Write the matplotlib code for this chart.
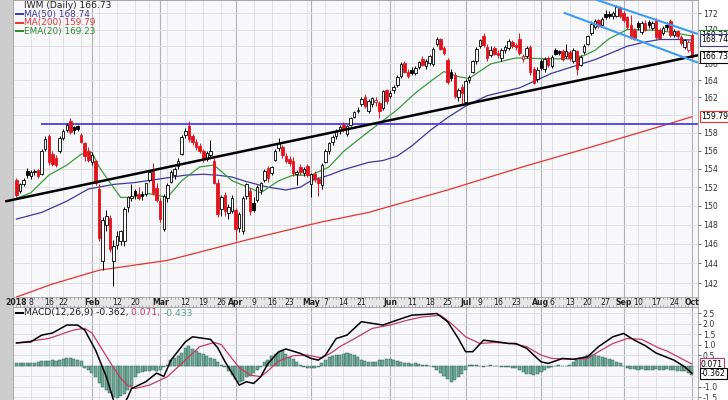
import matplotlib
matplotlib.use("Agg")
import matplotlib.pyplot as plt
import numpy as np
import pandas as pd
from matplotlib.patches import Rectangle
from matplotlib.transforms import blended_transform_factory
from matplotlib.ticker import NullLocator

# trading days on the chart (market holidays taken out)
holidays = ["2018-01-15", "2018-02-19", "2018-03-30", "2018-05-28", "2018-07-04", "2018-09-03"]
dates = pd.bdate_range("2018-01-02", "2018-10-01")
dates = dates[~dates.isin(pd.to_datetime(holidays))]

# IWM daily candles
opens = [152.8, 151.6, 152.3, 153.8, 153.2, 153.6, 153.9, 153.4, 156.2, 157.6, 155.6, 155.2, 155.9, 157.4, 158.3, 159.3, 158.6, 158.7, 157.7, 156.8, 156.0,
         154.7, 154.9, 151.8, 144.2, 148.0, 148.7, 144.2, 145.9, 146.3, 146.3, 149.9, 150.8, 151.6, 151.3, 151.3, 151.3, 152.8, 153.9, 151.9,
         150.5, 147.6, 150.8, 152.6, 153.3, 154.3, 155.6, 157.7, 158.7, 157.6, 157.0, 156.5, 156.0, 155.1, 155.5, 154.8, 152.4, 149.7, 151.2, 149.2, 149.5,
         149.6, 147.7, 147.3, 151.0, 151.6, 150.3, 150.6, 151.7, 152.8, 154.1, 153.5, 155.0, 156.3, 156.4, 155.4, 155.1, 154.8, 153.4, 154.2, 153.5, 154.3,
         152.3, 153.4, 152.9, 152.2, 154.7, 155.9, 157.0, 157.6, 158.3, 158.9, 157.9, 158.9, 159.8, 160.5, 161.3, 162.1, 160.5, 161.3, 161.5, 161.4, 160.8, 162.8,
         162.2, 162.8, 163.4, 164.5, 166.0, 164.9, 165.2, 164.8, 165.5, 166.5, 165.7, 166.0, 165.9, 168.3, 168.9, 167.8, 166.4, 165.0, 164.6, 162.1, 163.2,
         161.5, 164.0, 165.0, 166.2, 168.0, 169.2, 167.9, 166.9, 167.8, 167.2, 166.6, 167.6, 167.8, 168.5, 168.1, 168.9, 166.5, 166.8, 167.9, 165.3, 164.1,
         166.2, 165.3, 166.6, 165.6, 167.5, 167.4, 167.4, 166.8, 167.3, 166.2, 167.4, 165.8, 167.3, 168.3, 169.6, 170.3, 171.1, 170.5, 171.9, 171.9, 171.6, 171.7, 172.6,
         172.0, 171.5, 170.6, 169.9, 170.8, 169.7, 170.8, 170.9, 170.2, 171.2, 169.9, 169.6, 170.6, 171.0, 169.3, 169.8, 169.1, 167.9, 167.6,
         169.3]
highs = [153.0, 152.5, 153.0, 154.1, 153.9, 154.0, 154.0, 156.2, 157.6, 157.9, 156.0, 155.5, 157.6, 158.4, 159.1, 159.6, 158.8, 158.9, 158.0, 157.0, 156.4,
         155.8, 155.0, 152.3, 148.8, 149.6, 149.0, 146.4, 147.3, 147.4, 149.9, 151.1, 152.3, 151.8, 152.0, 151.6, 152.5, 153.9, 154.6, 152.4,
         150.8, 151.3, 152.4, 153.9, 154.2, 155.2, 157.7, 158.5, 159.3, 157.9, 157.3, 156.8, 156.2, 155.9, 157.2, 155.2, 152.9, 151.2, 151.5, 150.2, 151.2,
         149.8, 149.3, 151.0, 152.5, 151.9, 150.9, 152.2, 152.6, 154.0, 154.3, 154.3, 156.2, 157.4, 156.6, 155.7, 155.4, 155.3, 153.9, 154.5, 154.2, 154.5,
         153.5, 153.8, 153.1, 154.6, 156.2, 157.0, 157.7, 158.4, 158.9, 159.2, 158.9, 159.8, 160.5, 160.9, 162.0, 162.4, 161.8, 162.1, 162.0, 161.6, 162.9, 163.0,
         162.8, 163.4, 164.6, 166.1, 166.3, 165.3, 165.5, 165.6, 166.3, 166.8, 166.5, 167.0, 167.9, 169.1, 169.0, 168.0, 166.6, 165.3, 164.9, 163.1, 163.5,
         164.1, 164.6, 166.4, 167.9, 168.9, 169.6, 168.3, 168.0, 168.0, 167.5, 167.8, 168.1, 168.9, 168.7, 168.4, 169.6, 167.1, 168.0, 168.1, 165.5, 165.5,
         166.5, 166.7, 166.8, 166.9, 167.8, 167.6, 167.7, 168.3, 167.6, 167.8, 167.5, 166.9, 168.3, 169.4, 171.0, 171.3, 171.3, 171.5, 172.4, 172.2, 172.2, 173.0, 172.9,
         172.3, 171.7, 171.8, 170.2, 171.0, 171.0, 171.1, 171.2, 171.0, 171.4, 170.2, 170.4, 170.9, 171.3, 170.1, 170.0, 169.4, 168.9, 168.7,
         169.6]
lows = [150.9, 151.4, 152.1, 153.0, 152.9, 153.3, 153.0, 153.3, 156.0, 154.4, 154.3, 154.2, 155.7, 157.2, 158.1, 157.9, 157.8, 158.2, 156.8, 154.9, 154.7,
        154.4, 152.2, 146.3, 143.3, 147.3, 145.2, 141.7, 145.5, 145.9, 145.8, 149.3, 150.5, 150.7, 150.6, 150.6, 151.1, 152.6, 151.2, 150.4,
        148.3, 147.3, 150.4, 152.4, 152.9, 154.0, 155.5, 157.4, 157.0, 156.6, 156.1, 155.7, 154.7, 154.9, 155.2, 152.3, 148.8, 148.9, 148.9, 148.6, 149.2,
        146.4, 147.2, 147.0, 150.7, 149.0, 149.3, 150.4, 151.3, 152.6, 152.6, 153.3, 154.8, 156.0, 155.2, 154.6, 154.3, 153.2, 152.2, 153.3, 153.2, 153.1,
        150.9, 152.6, 151.0, 151.8, 154.6, 155.6, 156.6, 157.3, 157.9, 158.1, 157.6, 158.7, 159.6, 160.2, 161.0, 160.8, 160.2, 160.9, 161.0, 159.7, 160.6, 161.3,
        161.9, 162.5, 163.2, 164.3, 164.8, 164.2, 164.6, 164.6, 165.3, 165.6, 165.3, 165.8, 165.6, 168.0, 167.5, 167.0, 163.6, 163.9, 161.9, 161.6, 161.1,
        161.2, 163.7, 164.8, 165.9, 167.8, 167.9, 166.3, 166.7, 166.9, 166.6, 166.3, 167.2, 167.6, 167.8, 167.6, 167.0, 166.1, 166.6, 164.6, 163.5, 163.8,
        165.2, 165.0, 165.5, 165.4, 166.9, 166.9, 166.2, 166.6, 166.2, 166.0, 164.6, 165.6, 167.1, 168.1, 169.4, 170.1, 170.2, 170.4, 171.3, 171.4, 171.3, 171.5, 171.4,
        170.9, 170.1, 168.8, 168.7, 170.0, 169.5, 169.8, 170.2, 170.0, 168.9, 168.8, 169.4, 170.0, 169.1, 169.1, 168.9, 168.2, 167.7, 167.3,
        166.6]
closes = [151.2, 152.3, 152.8, 153.3, 153.6, 153.8, 153.2, 156.0, 157.3, 154.7, 154.5, 154.4, 157.4, 158.2, 158.9, 158.1, 158.3, 158.4, 157.0, 155.4, 155.0,
          155.5, 152.5, 146.6, 148.5, 148.9, 145.5, 145.8, 146.8, 147.3, 149.7, 150.9, 151.0, 151.2, 150.8, 151.0, 152.4, 153.7, 151.4, 150.6,
          148.6, 151.1, 152.2, 153.7, 154.0, 154.9, 157.5, 158.2, 157.3, 156.9, 156.4, 155.9, 155.2, 155.7, 155.9, 152.5, 149.1, 150.9, 149.4, 149.9, 150.8,
          147.6, 149.1, 150.8, 152.3, 149.4, 149.6, 152.0, 152.4, 153.8, 153.0, 154.2, 156.0, 156.8, 155.5, 154.9, 154.6, 153.5, 153.7, 153.6, 154.0, 153.3,
          153.4, 152.9, 152.4, 154.4, 156.0, 156.8, 157.5, 158.2, 158.6, 158.4, 158.7, 159.6, 160.3, 160.6, 161.8, 161.0, 161.6, 161.9, 161.7, 160.5, 162.7, 161.6,
          162.5, 163.2, 164.4, 165.9, 165.0, 164.5, 164.8, 165.4, 166.1, 165.8, 166.3, 166.8, 167.7, 168.8, 167.7, 167.2, 163.8, 164.3, 162.2, 162.9, 162.5,
          163.9, 164.4, 166.2, 167.7, 168.7, 168.2, 166.6, 167.6, 167.1, 166.9, 167.6, 167.9, 168.6, 168.0, 167.9, 167.2, 166.8, 167.8, 164.9, 163.7, 165.2,
          165.4, 166.5, 165.8, 166.7, 167.1, 167.2, 166.5, 167.4, 166.6, 167.6, 165.3, 166.7, 168.0, 169.2, 170.7, 171.0, 170.4, 171.3, 171.5, 171.6, 172.0, 172.7, 171.6,
          171.1, 170.3, 169.0, 168.9, 170.3, 170.8, 170.0, 170.5, 170.8, 169.1, 169.0, 170.2, 170.3, 169.3, 169.8, 169.2, 168.4, 168.7, 168.5,
          166.73]

# moving averages read at a few days (day index, value)
ema20_day = [0, 4, 9, 14, 18, 21, 23, 26, 29, 32, 37, 42, 46, 51, 55, 60, 65, 68, 73, 77, 82, 87, 91, 97, 106, 111, 116, 119, 123, 126, 132, 139, 149, 154, 158, 161, 165, 170, 179, 188]
ema20_val = [150.8, 151.4, 153.3, 154.4, 155.6, 155.8, 154.2, 152.5, 150.9, 150.9, 151.3, 150.9, 152.7, 154.2, 154.4, 152.7, 151.9, 151.4, 152.7, 153.3, 153.3, 154.2, 155.9, 157.8, 160.6, 162.5, 164.1, 165.0, 164.4, 164.2, 165.9, 166.6, 166.5, 166.5, 166.9, 167.5, 168.9, 170.0, 169.9, 169.23]
ma50_day = [0, 7, 14, 20, 27, 33, 40, 47, 52, 56, 60, 64, 70, 75, 79, 82, 87, 91, 98, 102, 106, 110, 115, 120, 125, 131, 140, 149, 155, 161, 165, 170, 175, 179, 184, 188]
ma50_val = [148.6, 149.3, 150.5, 151.8, 152.3, 152.5, 152.9, 153.3, 153.4, 153.3, 153.1, 152.6, 152.0, 151.7, 152.0, 152.7, 153.3, 153.9, 154.7, 154.9, 155.4, 156.5, 158.2, 159.7, 161.0, 162.2, 163.1, 164.8, 165.6, 166.4, 167.1, 168.0, 168.5, 168.8, 168.8, 168.74]
ma200_day = [0, 10, 23, 42, 65, 85, 98, 120, 140, 160, 180, 188]
ma200_val = [140.6, 141.9, 143.3, 144.3, 146.5, 148.3, 149.3, 151.7, 154.1, 156.4, 158.8, 159.79]

# MACD(12,26,9)
macd_day = [0, 4, 7, 10, 14, 17, 19, 22, 25, 27, 29, 31, 32, 36, 39, 41, 43, 47, 49, 54, 56, 58, 60, 62, 64, 66, 68, 70, 73, 75, 79, 82, 84, 86, 89, 92, 96, 99, 102, 106, 110,
            114, 117, 120, 123, 125, 127, 130, 134, 137, 139, 142, 146, 148, 152, 155, 159, 162, 166, 169, 172, 175, 178, 183, 186, 188]
macd_val = [1.08, 1.13, 1.45, 1.55, 1.93, 1.93, 1.69, 0.74, -0.53, -1.64, -2.1, -1.5, -1.1, -0.77, -0.36, -0.52, 0.26, 1.13, 1.37, 1.25, 0.85, 0.2, -0.36, -0.93, -0.77, -0.85, -0.53, 0.10, 0.66, 0.79, 0.58,
            0.34, 0.26, 0.50, 1.29, 1.45, 2.09, 2.01, 1.93, 2.17, 2.40, 2.44, 2.48, 2.09, 1.29, 0.66, 0.66, 1.21, 1.13, 1.05, 1.05, 0.82, 0.18, 0.10, 0.34, 0.30, 0.42, 0.90, 1.37, 1.53, 1.21, 0.95, 0.6, 0.26, -0.06, -0.362]
signal_day = [0, 9, 16, 19, 21, 23, 25, 27, 29, 31, 33, 37, 42, 46, 51, 55, 57, 59, 62, 65, 68, 70, 73, 77, 81, 85, 88, 90, 95, 99, 104, 109, 113, 118, 121, 125, 129, 133, 138,
              142, 146, 149, 155, 159, 162, 166, 170, 174, 179, 181, 188]
signal_val = [1.07, 1.29, 1.70, 1.77, 1.55, 1.0, 0.45, -0.1, -0.6, -0.95, -1.09, -0.93, -0.53, 0.10, 0.90, 1.10, 1.0, 0.55, -0.1, -0.45, -0.53, -0.25, 0.22, 0.47, 0.50, 0.36, 0.65, 0.90, 1.37, 1.77,
              1.93, 2.17, 2.32, 2.40, 2.01, 1.37, 1.05, 1.10, 1.05, 0.90, 0.50, 0.34, 0.30, 0.34, 0.66, 1.05, 1.29, 1.25, 0.82, 0.70, 0.071]
hist = [0.10, 0.10, 0.12, 0.11, 0.12, 0.13, 0.18, 0.22, 0.24, 0.22, 0.25, 0.24, 0.28, 0.32, 0.36, 0.34, 0.30, 0.28, 0.22,
        -0.10, -0.22, -0.35, -0.55, -0.85, -1.00, -1.15, -1.30, -1.52, -1.55, -1.45, -1.35, -1.15, -0.95, -0.55,
        -0.35, -0.30, -0.28, -0.25, -0.22, -0.25, -0.20, -0.05, 0.05, 0.25, 0.35, 0.45, 0.60, 0.85, 0.92, 0.80, 0.70, 0.62,
        0.55, 0.45, 0.38, 0.30, 0.15, 0.05, -0.05, -0.25, -0.45, -0.65, -0.77, -0.72, -0.55, -0.48, -0.35, -0.20, -0.05,
        0.15, 0.28, 0.45, 0.55, 0.65, 0.70, 0.55, 0.42, 0.30, 0.15, 0.02, -0.05, -0.10, -0.12, -0.10, -0.05, 0.10, 0.25,
        0.40, 0.45, 0.48, 0.52, 0.55, 0.58, 0.55, 0.50, 0.40, 0.28, 0.20, 0.15, 0.15, 0.18, 0.25, 0.28, 0.30, 0.30, 0.28, 0.22,
        0.15, 0.12, 0.10, 0.08, 0.10, 0.06, 0.04, 0.02, -0.02, -0.08, -0.20, -0.35, -0.50, -0.65, -0.78, -0.70, -0.55, -0.40, -0.20,
        0.02, 0.05, 0.02, -0.03, -0.05, -0.04, 0.02, 0.00, -0.03, -0.05, -0.08, -0.06, -0.10, -0.12,
        -0.20, -0.30, -0.38, -0.42, -0.45, -0.40, -0.30, -0.20, -0.12, -0.05, -0.02, 0.02, 0.00, -0.03, 0.05,
        0.15, 0.25, 0.35, 0.42, 0.48, 0.50, 0.48, 0.45, 0.40, 0.35, 0.30, 0.25, 0.18, 0.10, 0.00,
        -0.10, -0.15, -0.18, -0.20, -0.18, -0.20, -0.22, -0.20, -0.18, -0.22, -0.20, -0.15, -0.20, -0.22, -0.25, -0.25, -0.28, -0.35, -0.43]

# date axis labels
tick_dates = ["2018-01-02", "2018-01-08", "2018-01-16", "2018-01-22", "2018-02-01", "2018-02-12", "2018-02-20",
              "2018-03-01", "2018-03-12", "2018-03-19", "2018-03-26", "2018-04-02", "2018-04-09", "2018-04-16", "2018-04-23",
              "2018-05-01", "2018-05-07", "2018-05-14", "2018-05-21", "2018-06-01", "2018-06-11", "2018-06-18", "2018-06-25",
              "2018-07-02", "2018-07-09", "2018-07-16", "2018-07-23", "2018-08-01", "2018-08-06", "2018-08-13", "2018-08-20",
              "2018-08-27", "2018-09-04", "2018-09-10", "2018-09-17", "2018-09-24", "2018-10-01"]
tick_labels = ["2018", "8", "16", "22", "Feb", "12", "20", "Mar", "12", "19", "26", "Apr", "9", "16", "23",
               "May", "7", "14", "21", "Jun", "11", "18", "25", "Jul", "9", "16", "23", "Aug", "6", "13", "20",
               "27", "Sep", "10", "17", "24", "Oct"]
price_ticks = [142, 144, 146, 148, 150, 152, 154, 156, 158, 162, 164, 166, 170, 172]
macd_ticks = [-1.5, -1.0, 0.5, 1.0, 1.5, 2.0, 2.5]

# trend lines drawn on the chart (day index, price)
trend_day, trend_val = [-2.8, 189.4], [150.5, 166.9]
resist_day, resist_val = [7.0, 189.4], [159.0, 159.0]
chan_up_day, chan_up_val = [161.6, 189.4], [173.6, 169.5]
chan_lo_day, chan_lo_val = [152.6, 189.4], [172.0, 166.1]

assert len(dates) == len(opens) == len(highs) == len(lows) == len(closes) == len(hist) == 189

W, H = 728, 400
def px(l, b, w, h):
    return [l / W, b / H, w / W, h / H]

fig = plt.figure(figsize=(W / 100, H / 100), dpi=100, facecolor="white")
ax = fig.add_axes(px(13, 103, 685, 297))
strip = fig.add_axes(px(13, 93, 685, 10))
axm = fig.add_axes(px(13, 0, 685, 93))
fig.add_artist(Rectangle((0, 0), 13 / W, 1, transform=fig.transFigure, color="#cdcdcd", zorder=0))

xlim = (-0.97, 189.7)
x = np.arange(len(closes))
o, h, l, c = (np.array(v) for v in (opens, highs, lows, closes))
prev = np.r_[o[0], c[:-1]]
edge = np.where(c >= prev, "black", "#e3121b")
fill = np.where(c < o, edge, "white")

# week / month grid
week_start = [i for i in range(1, len(dates)) if dates[i].weekday() < dates[i - 1].weekday()]
month_start = [i for i in range(1, len(dates)) if dates[i].month != dates[i - 1].month]
for a in (ax, axm):
    a.set_facecolor("#f8f8fb")
    for i in week_start:
        a.axvline(i, color="#dcdce4", lw=0.6, zorder=0)
    for i in month_start:
        a.axvline(i, color="#b0b0b8", lw=0.8, zorder=0)
    a.set_xlim(*xlim)
    a.set_xticks([])
    for s in a.spines.values():
        s.set_color("#9a9a9a")
        s.set_linewidth(0.6)
    a.yaxis.tick_right()
    a.tick_params(axis="y", length=2, width=0.5, labelsize=5.6, pad=1.5, colors="#333333")

# price panel
ax.set_yscale("log")
ax.set_ylim(140.6, 173.6)
ax.set_yticks(price_ticks)
ax.set_yticklabels([str(v) for v in price_ticks])
ax.yaxis.set_minor_locator(NullLocator())
for v in range(142, 173, 2):
    ax.axhline(v, color="#dcdce4", lw=0.6, zorder=0)

ax.plot(ma200_day, ma200_val, color="#e8322e", lw=0.9, zorder=2)
ax.plot(ma50_day, ma50_val, color="#3a3aa0", lw=0.9, zorder=2)
ax.plot(ema20_day, ema20_val, color="#3c9a3c", lw=0.9, zorder=2)
ax.plot(resist_day, resist_val, color="#4a3cf0", lw=1.3, zorder=2)
ax.plot(trend_day, trend_val, color="black", lw=1.8, zorder=5, clip_on=False)
ax.plot(chan_up_day, chan_up_val, color="#3d9cf2", lw=1.5, zorder=5)
ax.plot(chan_lo_day, chan_lo_val, color="#3d9cf2", lw=1.5, zorder=5)

ax.vlines(x, l, h, colors=edge, lw=0.7, zorder=3)
ax.bar(x, np.maximum(np.abs(c - o), 0.06), bottom=np.minimum(o, c), width=0.7,
       color=fill, edgecolor=edge, lw=0.6, zorder=4)

# legend lines at top left
ax.text(0.016, 1 - 5 / 297, "IWM (Daily) 166.73", transform=ax.transAxes, fontsize=6.6,
        va="center", ha="left", color="#222222")
for k, (txt, col) in enumerate([("MA(50) 168.74", "#3a3aa0"), ("MA(200) 159.79", "#e8322e"),
                                ("EMA(20) 169.23", "#2e8a2e")]):
    yy = 1 - (14 + 8.7 * k) / 297
    ax.plot([0.005, 0.014], [yy, yy], transform=ax.transAxes, color=col, lw=1.4)
    ax.text(0.016, yy, txt, transform=ax.transAxes, fontsize=6.4, va="center", ha="left", color=col)

# value boxes on the right edge
tr = blended_transform_factory(ax.transAxes, ax.transData)
for val, col, z in [(159.79, "#e8322e", 10), (169.23, "#2e8a2e", 10), (168.74, "#3a3aa0", 11), (166.73, "black", 12)]:
    ax.text(1.004, val, f"{val:.2f}", transform=tr, fontsize=5.6, va="center", ha="left", clip_on=False,
            zorder=z, bbox=dict(boxstyle="square,pad=0.15", fc="white", ec=col, lw=0.8))

# date strip
strip.set_facecolor("#e6e6e6")
strip.set_xlim(*xlim)
strip.set_ylim(0, 1)
strip.set_xticks([])
strip.set_yticks([])
for s in strip.spines.values():
    s.set_color("#9a9a9a")
    s.set_linewidth(0.5)
strip.vlines(x, 0, 0.2, color="#7a7a7a", lw=0.4)
strip.vlines(x, 0.8, 1, color="#7a7a7a", lw=0.4)
pos = {d: i for i, d in enumerate(dates.strftime("%Y-%m-%d"))}
for d, lab in zip(tick_dates, tick_labels):
    bold = not lab.isdigit() or lab == "2018"
    strip.text(pos[d], 0.45, lab, fontsize=5.6, ha="center", va="center", color="#222222",
               fontweight="bold" if bold else "normal")

# MACD panel
axm.set_ylim(-1.64, 2.79)
axm.set_yticks(macd_ticks)
axm.set_yticklabels([f"{v:.1f}" for v in macd_ticks])
for v in np.arange(-1.5, 2.51, 0.5):
    axm.axhline(v, color="#dcdce4", lw=0.6, zorder=0)
axm.bar(x, hist, width=0.85, color="#72a996", edgecolor="#2d6656", lw=0.35, zorder=2)
axm.plot(signal_day, signal_val, color="#c83a62", lw=0.9, zorder=3)
axm.plot(macd_day, macd_val, color="black", lw=1.1, zorder=4)

trm = blended_transform_factory(axm.transAxes, axm.transData)
for val, col in [(0.071, "#c83a62"), (-0.362, "black")]:
    axm.text(1.004, val, f"{val:.3f}", transform=trm, fontsize=5.6, va="center", ha="left", clip_on=False,
             zorder=10, bbox=dict(boxstyle="square,pad=0.15", fc="white", ec=col, lw=0.8))

ym = (400 - 313) / 93
axm.plot([0.005, 0.014], [ym, ym], transform=axm.transAxes, color="black", lw=1.4)
t = axm.text(0.016, ym, "MACD(12,26,9) -0.362, ", transform=axm.transAxes, fontsize=6.6,
             va="center", ha="left", color="#222222")
t = axm.annotate("0.071, ", xy=(1, 0.5), xycoords=t, va="center", ha="left", fontsize=6.6, color="#c83a62")
axm.annotate("-0.433", xy=(1, 0.5), xycoords=t, va="center", ha="left", fontsize=6.6, color="#5f9e8a")

fig.savefig("out.png", dpi=100, facecolor=fig.get_facecolor())
